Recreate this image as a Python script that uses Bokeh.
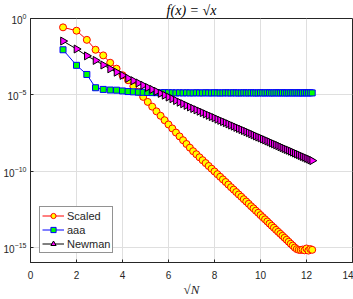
import math
from bokeh.plotting import figure
from bokeh.models import (FixedTicker, LogTickFormatter, Legend, LegendItem, Range1d)
from bokeh.embed import file_html
from bokeh.resources import INLINE

# ---------------- data ----------------
N = [2, 4, 6, 8, 10, 12, 14, 16, 18, 20,
     22, 24, 26, 28, 30, 32, 34, 36, 38, 40,
     42, 44, 46, 48, 50, 52, 54, 56, 58, 60,
     62, 64, 66, 68, 70, 72, 74, 76, 78, 80,
     82, 84, 86, 88, 90, 92, 94, 96, 98, 100,
     102, 104, 106, 108, 110, 112, 114, 116, 118, 120,
     122, 124, 126, 128, 130, 132, 134, 136, 138, 140,
     142, 144, 146, 148, 150]

# log10 of the error
scaled_log10 = [-0.58, -0.80, -1.40, -2.05, -2.42, -2.90, -3.29, -3.72, -4.05, -4.44,
                -4.80, -5.14, -5.47, -5.78, -6.09, -6.38, -6.67, -6.95, -7.21, -7.48,
                -7.73, -7.98, -8.23, -8.47, -8.70, -8.90, -9.10, -9.29, -9.48, -9.67,
                -9.85, -10.03, -10.21, -10.38, -10.55, -10.72, -10.89, -11.06, -11.22, -11.38,
                -11.54, -11.69, -11.85, -12.00, -12.15, -12.31, -12.45, -12.60, -12.74, -12.89,
                -13.03, -13.17, -13.31, -13.45, -13.59, -13.72, -13.86, -13.99, -14.12, -14.25,
                -14.38, -14.51, -14.64, -14.77, -14.89, -15.02, -15.12, -15.17, -15.18, -15.15,
                -15.20, -15.08, -15.22, -15.12, -15.17]

aaa_log10 = [-2.05, -3.07, -3.67, -4.54, -4.65, -4.69, -4.70, -4.75, -4.79, -4.81,
             -4.83, -4.84, -4.85, -4.86, -4.86, -4.87, -4.86, -4.87, -4.87, -4.88,
             -4.87, -4.88, -4.87, -4.88, -4.88, -4.87, -4.88, -4.88, -4.87, -4.88,
             -4.88, -4.87, -4.88, -4.88, -4.88, -4.87, -4.88, -4.88, -4.87, -4.88,
             -4.88, -4.88, -4.87, -4.88, -4.88, -4.87, -4.88, -4.88, -4.88, -4.87,
             -4.88, -4.88, -4.87, -4.88, -4.88, -4.88, -4.87, -4.88, -4.88, -4.87,
             -4.88, -4.88, -4.88, -4.87, -4.88, -4.88, -4.87, -4.88, -4.88, -4.88,
             -4.87, -4.88, -4.88, -4.87, -4.88]

newman_log10 = [-1.48, -2.00, -2.45, -2.75, -3.05, -3.30, -3.52, -3.73, -3.92, -4.08,
                -4.23, -4.38, -4.52, -4.65, -4.78, -4.91, -5.03, -5.15, -5.26, -5.38,
                -5.49, -5.59, -5.70, -5.80, -5.90, -5.99, -6.08, -6.17, -6.26, -6.35,
                -6.43, -6.51, -6.60, -6.68, -6.76, -6.83, -6.91, -6.99, -7.06, -7.14,
                -7.21, -7.28, -7.35, -7.42, -7.49, -7.56, -7.63, -7.70, -7.77, -7.83,
                -7.90, -7.96, -8.03, -8.09, -8.16, -8.22, -8.28, -8.34, -8.41, -8.47,
                -8.53, -8.59, -8.64, -8.70, -8.76, -8.82, -8.88, -8.93, -8.99, -9.05,
                -9.10, -9.16, -9.21, -9.27, -9.32]

x_ticks = [0, 2, 4, 6, 8, 10, 12, 14]
y_ticks = [1e-15, 1e-10, 1e-5, 1.0]
series_names = ["Scaled", "aaa", "Newman"]

# ---------------- figure ----------------
x = [math.sqrt(n) for n in N]
scaled = [10 ** v for v in scaled_log10]
aaa = [10 ** v for v in aaa_log10]
newman = [10 ** v for v in newman_log10]

TXT = "#262626"
GRID = "#dfdfdf"

p = figure(width=353, height=299, x_range=Range1d(0, 14), y_range=Range1d(1e-16, 1.0),
           y_axis_type="log", output_backend="svg", toolbar_location=None,
           min_border_left=4, min_border_right=1, min_border_top=0, min_border_bottom=0)
p.background_fill_color = "white"
p.border_fill_color = "white"
p.outline_line_color = TXT
p.outline_line_width = 1

p.title.text = "f(x) = √x"
p.title.text_font = "Liberation Serif"
p.title.text_font_style = "italic"
p.title.text_font_size = "14px"
p.title.text_color = "black"
p.title.align = "center"
p.title.standoff = 1
p.title.offset = 0

xa = p.xaxis[0]
xa.ticker = FixedTicker(ticks=x_ticks)
xa.axis_label = "√N"
xa.axis_label_text_font = "Liberation Serif"
xa.axis_label_text_font_style = "italic"
xa.axis_label_text_font_size = "13px"
xa.axis_label_text_color = TXT
xa.axis_label_standoff = 0
ya = p.yaxis[0]
ya.ticker = FixedTicker(ticks=y_ticks)
ya.formatter = LogTickFormatter()

for ax in (xa, ya):
    ax.axis_line_color = TXT
    ax.major_tick_line_color = TXT
    ax.major_tick_in = 3
    ax.major_tick_out = 0
    ax.minor_tick_line_color = None
    ax.major_label_text_font = "Liberation Sans"
    ax.major_label_text_font_size = "10px"
    ax.major_label_text_color = TXT
xa.major_label_standoff = 8
ya.major_label_standoff = 4

p.xgrid.ticker = FixedTicker(ticks=x_ticks)
p.ygrid.ticker = FixedTicker(ticks=y_ticks)
p.xgrid.grid_line_color = GRID
p.ygrid.grid_line_color = GRID

# ---------------- series ----------------
l1 = p.line(x, scaled, line_color="#ff0000", line_width=1)
s1 = p.scatter(x, scaled, marker="circle", size=7, fill_color="#ffff00",
               line_color="#ff0000", line_width=1)
l2 = p.line(x, aaa, line_color="#0000ff", line_width=1)
s2 = p.scatter(x, aaa, marker="square", size=6, fill_color="#00ff00",
               line_color="#0000ff", line_width=1)
l3 = p.line(x, newman, line_color="#000000", line_width=1)
s3 = p.scatter(x, newman, marker="triangle", size=8, angle=-math.pi / 2,
               fill_color="#ff00ff", line_color="#000000", line_width=1)

legend = Legend(items=[LegendItem(label=series_names[0], renderers=[l1, s1]),
                       LegendItem(label=series_names[1], renderers=[l2, s2]),
                       LegendItem(label=series_names[2], renderers=[l3, s3])],
                location="bottom_left")
legend.label_text_font = "Liberation Sans"
legend.label_text_font_size = "11px"
legend.label_text_color = TXT
legend.glyph_width = 22
legend.glyph_height = 13
legend.label_height = 13
legend.spacing = 1
legend.padding = 2
legend.margin = 9
legend.label_standoff = 3
legend.border_line_color = TXT
legend.border_line_width = 1
legend.background_fill_color = "white"
legend.background_fill_alpha = 1
p.add_layout(legend, "center")

open("out.html", "w").write(file_html(p, INLINE))
